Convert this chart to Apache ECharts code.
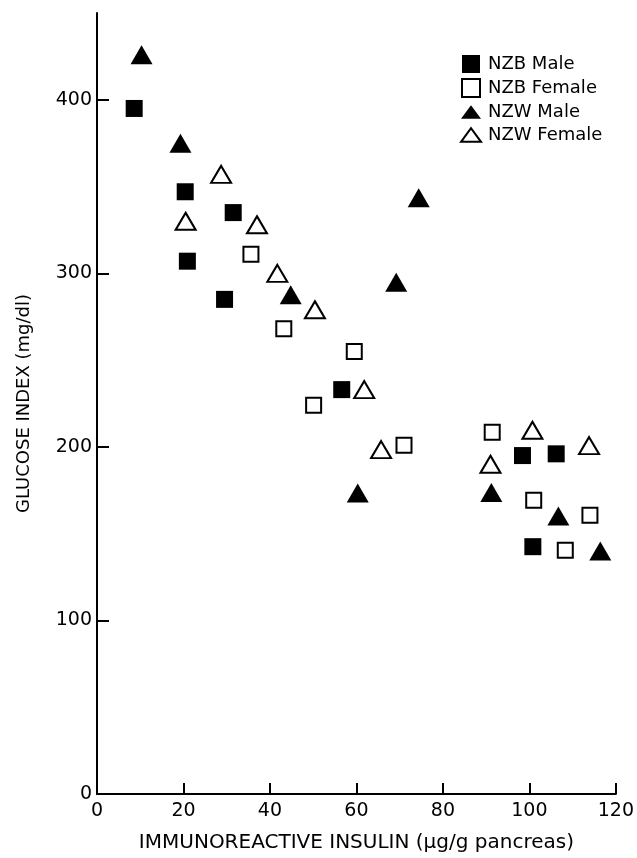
<!DOCTYPE html>
<html>
<head>
<meta charset="utf-8">
<script src="https://cdn.jsdelivr.net/npm/echarts@6/dist/echarts.min.js"></script>
<style>
html,body{margin:0;padding:0;background:#fff;}
#chart{width:637px;height:858px;}
</style>
</head>
<body>
<div id="chart"></div>
<script>
// Data
var seriesNames = ['NZB Male', 'NZB Female', 'NZW Male', 'NZW Female'];
var nzbMaleX = [8.6, 20.4, 20.9, 31.5, 29.5, 56.6, 98.4, 106.2, 100.8];
var nzbMaleY = [395, 347, 307, 335, 285, 233, 195, 196, 142.5];
var nzbFemaleX = [35.6, 43.2, 50.1, 59.5, 71.0, 91.4, 101.0, 114.0, 108.3];
var nzbFemaleY = [311, 268, 224, 255, 201, 208.5, 169.3, 160.6, 140.4];
var nzwMaleX = [10.3, 19.3, 44.8, 74.4, 69.2, 60.3, 91.2, 106.7, 116.4];
var nzwMaleY = [426, 375, 287.6, 343.5, 294.8, 173.5, 173.7, 160.2, 140];
var nzwFemaleX = [20.5, 28.7, 37.0, 41.7, 50.4, 61.8, 65.7, 91.0, 100.7, 113.8];
var nzwFemaleY = [330, 357, 328, 300, 279, 233, 198.4, 190, 209.6, 200.7];
var xTicks = [0, 20, 40, 60, 80, 100, 120];
var yTicks = [0, 100, 200, 300, 400];

function pairs(xs, ys) { return xs.map(function (x, i) { return [x, ys[i]]; }); }

var FONT = 'DejaVu Sans';
var chart = echarts.init(document.getElementById('chart'), null, {renderer: 'canvas'});

var filled = {color: '#000', opacity: 1};
var open = {color: '#fff', borderColor: '#000', borderWidth: 2, opacity: 1};

chart.setOption({
  backgroundColor: '#fff',
  animation: false,
  grid: {left: 97, right: 17, top: 13, bottom: 56, containLabel: false},
  legend: {
    orient: 'vertical',
    left: 460,
    top: 55,
    padding: 0,
    itemWidth: 20,
    itemHeight: 18,
    itemGap: 5,
    symbolKeepAspect: true,
    textStyle: {fontFamily: FONT, fontSize: 18, color: '#000', lineHeight: 18, padding: [0, 0, 0, 2]},
    data: [
      {name: seriesNames[0], icon: 'path://M0,0H17V17H0Z', itemStyle: {color: '#000', borderWidth: 0, opacity: 1}},
      {name: seriesNames[1], icon: 'path://M0,0H17V17H0Z', itemStyle: {color: '#fff', borderColor: '#000', borderWidth: 2, opacity: 1}},
      {name: seriesNames[2], icon: 'path://M0,13L9.5,0L19,13Z', itemStyle: {color: '#000', borderWidth: 0, opacity: 1}},
      {name: seriesNames[3], icon: 'path://M0,13L9.5,0L19,13Z', itemStyle: {color: '#fff', borderColor: '#000', borderWidth: 2, opacity: 1}}
    ]
  },
  xAxis: {
    type: 'value', min: 0, max: 120, interval: 20,
    name: 'IMMUNOREACTIVE INSULIN (\u03bcg/g pancreas)',
    nameLocation: 'middle', nameGap: 39,
    nameTextStyle: {fontFamily: FONT, fontSize: 20, color: '#000'},
    axisLine: {show: true, onZero: false, lineStyle: {color: '#000', width: 2}},
    axisTick: {show: true, inside: true, length: 11, lineStyle: {color: '#000', width: 2}, customValues: xTicks},
    axisLabel: {fontFamily: FONT, fontSize: 19, color: '#000', margin: 8, customValues: xTicks},
    splitLine: {show: false}
  },
  yAxis: {
    type: 'value', min: 0, max: 450, interval: 100,
    name: 'GLUCOSE INDEX (mg/dl)',
    nameLocation: 'middle', nameGap: 64, nameRotate: 90,
    nameTextStyle: {fontFamily: FONT, fontSize: 18, color: '#000'},
    axisLine: {show: true, onZero: false, lineStyle: {color: '#000', width: 2}},
    axisTick: {show: true, inside: true, length: 12, lineStyle: {color: '#000', width: 2}, customValues: yTicks},
    axisLabel: {fontFamily: FONT, fontSize: 19, color: '#000', margin: 5, customValues: yTicks},
    splitLine: {show: false}
  },
  series: [
    {name: seriesNames[0], type: 'scatter', symbol: 'rect', symbolSize: 17, itemStyle: filled, data: pairs(nzbMaleX, nzbMaleY)},
    {name: seriesNames[1], type: 'scatter', symbol: 'rect', symbolSize: 15, itemStyle: open, data: pairs(nzbFemaleX, nzbFemaleY)},
    {name: seriesNames[2], type: 'scatter', symbol: 'triangle', symbolSize: [22, 19], itemStyle: filled, data: pairs(nzwMaleX, nzwMaleY)},
    {name: seriesNames[3], type: 'scatter', symbol: 'triangle', symbolSize: [20, 17], itemStyle: open, data: pairs(nzwFemaleX, nzwFemaleY)}
  ]
});
</script>
</body>
</html>
